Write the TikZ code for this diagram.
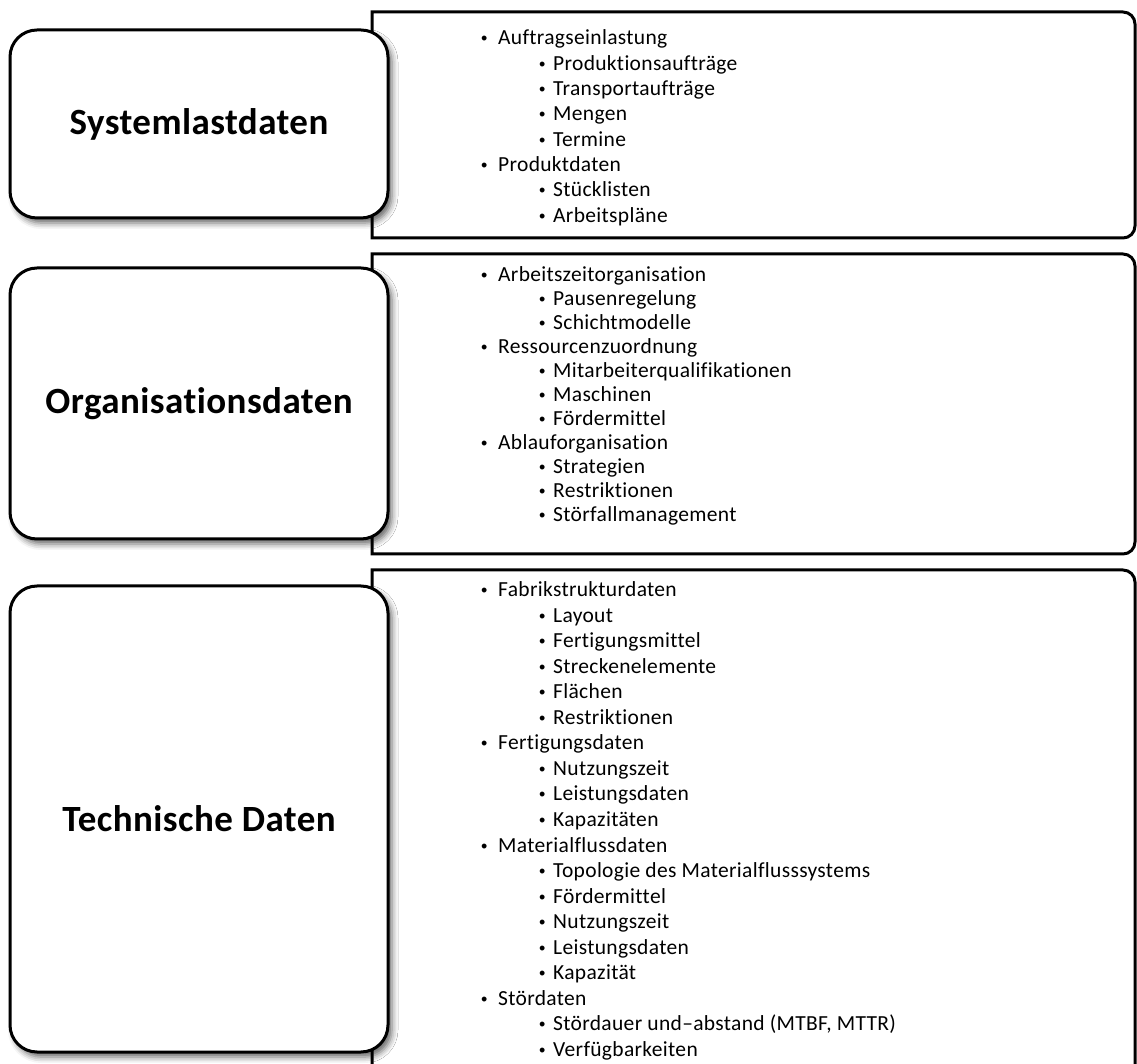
\documentclass[tikz,border=0pt]{standalone}
\usepackage{fontspec}
\setmainfont[Ligatures=NoCommon]{Carlito}
\newfontfamily\bulletfont{Liberation Sans}
\usetikzlibrary{shadows.blur}

\tikzset{
  catbox/.style={draw=black, line width=3pt, fill=white, rounded corners=27pt,
    minimum width=378pt, align=center, inner sep=0pt,
    font=\addfontfeatures{LetterSpace=1.2}\fontsize{37}{40}\selectfont\bfseries,
    blur shadow={shadow xshift=4pt, shadow yshift=-5pt, shadow blur radius=6pt, shadow opacity=60}},
  panel/.style={draw=black, line width=3pt, fill=white},
  itemtext/.style={anchor=base west, inner sep=0pt,
    font=\addfontfeatures{LetterSpace=1.5}\fontsize{21.5}{24}\selectfont},
}
\newcommand{\bulA}{\makebox[17pt][l]{\bulletfont\fontsize{18}{18}\selectfont•}}
\newcommand{\bulB}{\makebox[14pt][l]{\bulletfont\fontsize{18}{18}\selectfont•}}

\begin{document}
\begin{tikzpicture}[x=1pt, y=1pt]
\useasboundingbox (0,0) rectangle (1137,1063);
\clip (0,0) rectangle (1137,1063);

% list panels: square on the left, rounded on the right
\draw[panel] (372,1051) -- (1123,1051) arc[start angle=90, end angle=0, radius=12]
  -- (1135,837) arc[start angle=0, end angle=-90, radius=12] -- (372,825) -- cycle;
\draw[panel] (372,809) -- (1123,809) arc[start angle=90, end angle=0, radius=12]
  -- (1135,521) arc[start angle=0, end angle=-90, radius=12] -- (372,509) -- cycle;
\draw[panel] (372,493) -- (1123,493) arc[start angle=90, end angle=0, radius=12]
  -- (1135,-20) -- (372,-20) -- cycle;

% category boxes
\node[catbox, minimum height=188pt] (sys) at (199,939) {Systemlastdaten};
\node[catbox, minimum height=271pt] (org) at (199,659.5) {Organisationsdaten};
\node[catbox, minimum height=466pt] (tech) at (199,244) {Technische Daten};

% Systemlastdaten items
\foreach [count=\i from 0] \lv/\txt in {
  1/Auftragseinlastung, 2/Produktionsaufträge, 2/Transportaufträge, 2/Mengen,
  2/Termine, 1/Produktdaten, 2/Stücklisten, 2/Arbeitspläne}{
  \ifnum\lv=1
    \node[itemtext] (s\i) at (481,{1063-45-\i*25.3}) {\bulA\txt};
  \else
    \node[itemtext] (s\i) at (539,{1063-45-\i*25.3}) {\bulB\txt};
  \fi
}

% Organisationsdaten items
\foreach [count=\i from 0] \lv/\txt in {
  1/Arbeitszeitorganisation, 2/Pausenregelung, 2/Schichtmodelle,
  1/Ressourcenzuordnung, 2/Mitarbeiterqualifikationen, 2/Maschinen, 2/Fördermittel,
  1/Ablauforganisation, 2/Strategien, 2/Restriktionen, 2/Störfallmanagement}{
  \ifnum\lv=1
    \node[itemtext] (o\i) at (481,{1063-282-\i*24}) {\bulA\txt};
  \else
    \node[itemtext] (o\i) at (539,{1063-282-\i*24}) {\bulB\txt};
  \fi
}

% Technische Daten items
\foreach [count=\i from 0] \lv/\txt in {
  1/Fabrikstrukturdaten, 2/Layout, 2/Fertigungsmittel, 2/Streckenelemente,
  2/Flächen, 2/Restriktionen, 1/Fertigungsdaten, 2/Nutzungszeit,
  2/Leistungsdaten, 2/Kapazitäten, 1/Materialflussdaten,
  2/Topologie des Materialflusssystems, 2/Fördermittel, 2/Nutzungszeit,
  2/Leistungsdaten, 2/Kapazität, 1/Stördaten,
  2/{Stördauer und–abstand (MTBF, MTTR)}, 2/Verfügbarkeiten}{
  \ifnum\lv=1
    \node[itemtext] (t\i) at (481,{1063-597-\i*25.5}) {\bulA\txt};
  \else
    \node[itemtext] (t\i) at (539,{1063-597-\i*25.5}) {\bulB\txt};
  \fi
}
\end{tikzpicture}
\end{document}
